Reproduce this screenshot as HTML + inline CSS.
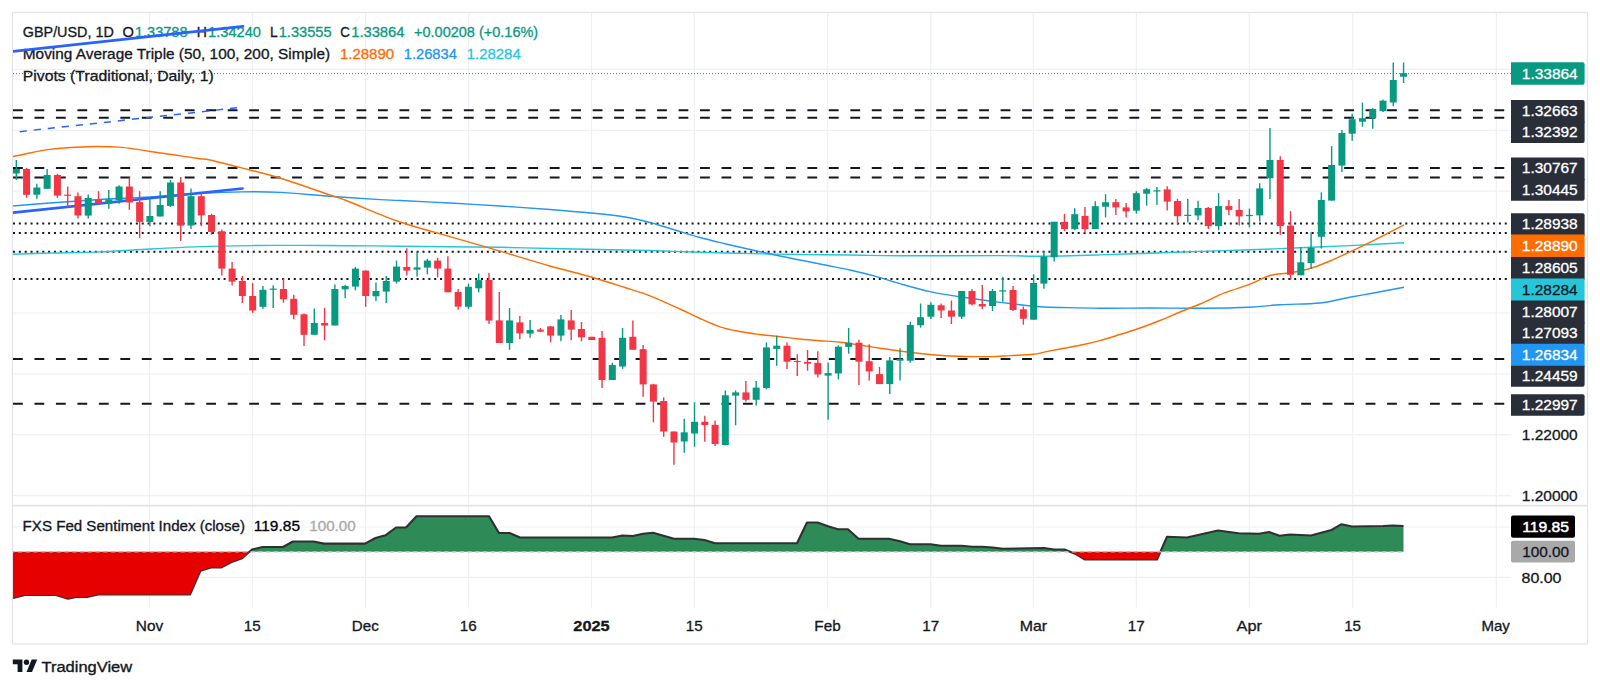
<!DOCTYPE html>
<html lang="en"><head><meta charset="utf-8"><title>GBP/USD chart</title>
<style>html,body{margin:0;padding:0;background:#fff;overflow:hidden}svg{display:block}text{white-space:pre}</style></head><body>
<svg width="1600" height="689" viewBox="0 0 1600 689" font-family="Liberation Sans, Arial, sans-serif">
<rect width="1600" height="689" fill="#ffffff"/>
<defs>
<clipPath id="main"><rect x="13" y="13" width="1498" height="492"/></clipPath>
</defs>
<g stroke="#eff0f3" stroke-width="1.2" fill="none">
<line x1="149.5" y1="13" x2="149.5" y2="607.5"/>
<line x1="252.5" y1="13" x2="252.5" y2="607.5"/>
<line x1="365.6" y1="13" x2="365.6" y2="607.5"/>
<line x1="468.6" y1="13" x2="468.6" y2="607.5"/>
<line x1="591.5" y1="13" x2="591.5" y2="607.5"/>
<line x1="694.3" y1="13" x2="694.3" y2="607.5"/>
<line x1="827.7" y1="13" x2="827.7" y2="607.5"/>
<line x1="930.7" y1="13" x2="930.7" y2="607.5"/>
<line x1="1033.4" y1="13" x2="1033.4" y2="607.5"/>
<line x1="1136.3" y1="13" x2="1136.3" y2="607.5"/>
<line x1="1249.3" y1="13" x2="1249.3" y2="607.5"/>
<line x1="1352.6" y1="13" x2="1352.6" y2="607.5"/>
<line x1="1496.3" y1="13" x2="1496.3" y2="607.5"/>
<line x1="13" y1="69.4" x2="1511" y2="69.4"/>
<line x1="13" y1="130.3" x2="1511" y2="130.3"/>
<line x1="13" y1="191.2" x2="1511" y2="191.2"/>
<line x1="13" y1="252.2" x2="1511" y2="252.2"/>
<line x1="13" y1="313" x2="1511" y2="313"/>
<line x1="13" y1="373.8" x2="1511" y2="373.8"/>
<line x1="13" y1="434.7" x2="1511" y2="434.7"/>
<line x1="13" y1="495.6" x2="1511" y2="495.6"/>
<line x1="13" y1="527" x2="1511" y2="527"/>
<line x1="13" y1="577.3" x2="1511" y2="577.3"/>
</g>
<rect x="12.5" y="12.5" width="1575" height="631.5" fill="none" stroke="#e0e3eb" stroke-width="1.2"/>
<line x1="13" y1="505.6" x2="1587" y2="505.6" stroke="#e0e3eb" stroke-width="1.6"/>
<g clip-path="url(#main)">
<line x1="13" y1="73.6" x2="1511" y2="73.6" stroke="#089981" stroke-width="1" stroke-dasharray="1 2"/>
<line x1="13" y1="110.3" x2="1508" y2="110.3" stroke="#131722" stroke-width="2" stroke-dasharray="9.8 11.67"/>
<line x1="13" y1="117.8" x2="1508" y2="117.8" stroke="#131722" stroke-width="2" stroke-dasharray="9.8 11.67"/>
<line x1="13" y1="167.9" x2="1508" y2="167.9" stroke="#131722" stroke-width="2" stroke-dasharray="9.8 11.67"/>
<line x1="13" y1="177.6" x2="1508" y2="177.6" stroke="#131722" stroke-width="2" stroke-dasharray="9.8 11.67"/>
<line x1="13" y1="359" x2="1508" y2="359" stroke="#131722" stroke-width="2" stroke-dasharray="9.8 11.67"/>
<line x1="13" y1="403.8" x2="1508" y2="403.8" stroke="#131722" stroke-width="2" stroke-dasharray="9.8 11.67"/>
<line x1="13" y1="223.4" x2="1508" y2="223.4" stroke="#131722" stroke-width="2" stroke-dasharray="2 3.85"/>
<line x1="13" y1="233.1" x2="1508" y2="233.1" stroke="#131722" stroke-width="2" stroke-dasharray="2 3.85"/>
<line x1="13" y1="251.7" x2="1508" y2="251.7" stroke="#131722" stroke-width="2" stroke-dasharray="2 3.85"/>
<line x1="13" y1="278.9" x2="1508" y2="278.9" stroke="#131722" stroke-width="2" stroke-dasharray="2 3.85"/>
<path d="M13.0 254.3C19.2 254.1 35.5 253.5 50.0 253.1C64.5 252.7 83.3 252.6 100.0 251.9C116.7 251.2 133.3 249.9 150.0 249.0C166.7 248.1 183.3 247.2 200.0 246.6C216.7 246.0 233.3 245.8 250.0 245.6C266.7 245.4 283.3 245.4 300.0 245.4C316.7 245.4 333.3 245.6 350.0 245.7C366.7 245.8 383.3 246.0 400.0 246.2C416.7 246.4 433.3 246.6 450.0 246.8C466.7 247.0 483.3 247.0 500.0 247.3C516.7 247.6 533.3 248.1 550.0 248.5C566.7 248.9 583.3 249.2 600.0 249.5C616.7 249.8 633.3 250.0 650.0 250.5C666.7 251.0 683.3 251.8 700.0 252.3C716.7 252.8 733.3 253.2 750.0 253.6C766.7 254.0 783.3 254.3 800.0 254.5C816.7 254.7 833.3 254.8 850.0 255.0C866.7 255.2 875.0 255.7 900.0 255.8C925.0 255.9 976.7 255.5 1000.0 255.6C1023.3 255.7 1023.3 256.3 1040.0 256.2C1056.7 256.1 1081.7 255.4 1100.0 254.9C1118.3 254.4 1133.3 253.8 1150.0 253.2C1166.7 252.6 1183.3 252.0 1200.0 251.4C1216.7 250.8 1233.3 250.4 1250.0 249.8C1266.7 249.2 1283.3 248.5 1300.0 247.8C1316.7 247.1 1332.7 246.4 1350.0 245.6C1367.3 244.8 1395.0 243.3 1404.0 242.8" fill="none" stroke="#26c6da" stroke-width="1.4"/>
<path d="M13.0 206.0C19.2 205.5 39.7 203.8 50.0 203.0C60.3 202.2 66.7 201.8 75.0 201.2C83.3 200.7 87.5 200.2 100.0 199.5C112.5 198.8 133.3 198.0 150.0 197.0C166.7 196.0 184.7 194.3 200.0 193.5C215.3 192.7 228.7 192.1 242.0 191.9C255.3 191.7 265.3 191.7 280.0 192.4C294.7 193.1 313.3 195.1 330.0 196.2C346.7 197.4 368.3 198.9 380.0 199.6C391.7 200.3 388.3 199.9 400.0 200.5C411.7 201.1 433.3 202.1 450.0 203.0C466.7 203.9 483.3 204.9 500.0 206.0C516.7 207.1 534.8 208.3 550.0 209.5C565.2 210.7 578.5 211.8 591.0 213.0C603.5 214.2 615.2 215.4 625.0 217.0C634.8 218.6 641.7 220.3 650.0 222.5C658.3 224.7 666.7 227.5 675.0 230.0C683.3 232.5 691.7 235.2 700.0 237.5C708.3 239.8 716.7 241.7 725.0 243.7C733.3 245.7 741.7 247.6 750.0 249.5C758.3 251.4 766.7 253.2 775.0 255.0C783.3 256.8 791.7 258.3 800.0 260.0C808.3 261.7 816.7 263.3 825.0 265.0C833.3 266.7 841.7 268.1 850.0 270.0C858.3 271.9 866.7 273.9 875.0 276.2C883.3 278.5 890.8 281.1 900.0 283.7C909.2 286.3 920.0 289.4 930.0 291.6C940.0 293.8 950.0 295.2 960.0 296.8C970.0 298.4 980.0 299.7 990.0 301.0C1000.0 302.3 1011.7 303.8 1020.0 304.8C1028.3 305.8 1033.3 306.4 1040.0 306.8C1046.7 307.2 1050.0 307.3 1060.0 307.5C1070.0 307.7 1085.0 308.1 1100.0 308.2C1115.0 308.3 1133.3 308.0 1150.0 308.0C1166.7 308.0 1183.3 308.3 1200.0 308.2C1216.7 308.1 1236.7 307.8 1250.0 307.2C1263.3 306.6 1268.3 305.4 1280.0 304.7C1291.7 304.0 1308.3 304.2 1320.0 303.0C1331.7 301.8 1340.8 298.9 1350.0 297.2C1359.2 295.5 1366.0 294.4 1375.0 292.7C1384.0 291.0 1399.2 288.1 1404.0 287.2" fill="none" stroke="#2196f3" stroke-width="1.4"/>
<path d="M13.0 156.5C15.0 156.1 18.8 155.2 25.0 154.0C31.2 152.8 41.7 150.5 50.0 149.4C58.3 148.3 67.1 147.7 75.0 147.2C82.9 146.8 90.2 146.5 97.5 146.5C104.8 146.5 112.3 146.6 119.0 147.1C125.7 147.6 132.3 148.7 137.5 149.4C142.7 150.1 143.8 150.6 150.0 151.5C156.2 152.4 166.7 153.8 175.0 155.0C183.3 156.2 194.2 157.9 200.0 158.8C205.8 159.6 201.7 158.1 210.0 160.0C218.3 161.9 238.3 167.0 250.0 170.0C261.7 173.0 266.7 173.8 280.0 178.0C293.3 182.2 319.2 191.3 330.0 195.0C340.8 198.7 336.7 196.8 345.0 200.0C353.3 203.2 370.8 210.7 380.0 214.4C389.2 218.1 391.7 219.2 400.0 222.0C408.3 224.8 418.3 227.6 430.0 231.0C441.7 234.4 458.3 239.0 470.0 242.4C481.7 245.8 486.7 247.3 500.0 251.2C513.3 255.1 534.8 261.7 550.0 266.0C565.2 270.3 578.5 273.4 591.0 277.0C603.5 280.6 615.2 284.4 625.0 287.5C634.8 290.6 640.8 292.2 650.0 295.8C659.2 299.4 671.7 305.2 680.0 309.0C688.3 312.8 693.3 315.5 700.0 318.5C706.7 321.5 713.3 324.6 720.0 326.8C726.7 329.0 733.3 330.2 740.0 331.5C746.7 332.8 753.3 333.6 760.0 334.5C766.7 335.4 773.3 335.9 780.0 336.7C786.7 337.4 793.3 338.3 800.0 339.0C806.7 339.7 813.3 340.2 820.0 340.7C826.7 341.2 833.3 341.5 840.0 342.2C846.7 342.9 853.3 344.0 860.0 345.0C866.7 346.0 873.3 347.2 880.0 348.2C886.7 349.2 893.3 350.2 900.0 351.1C906.7 352.0 911.7 352.7 920.0 353.5C928.3 354.3 938.3 355.5 950.0 356.0C961.7 356.5 980.0 356.7 990.0 356.6C1000.0 356.5 1002.8 356.0 1010.0 355.6C1017.2 355.2 1027.2 354.9 1033.0 354.3C1038.8 353.7 1040.5 352.8 1045.0 351.9C1049.5 351.0 1054.2 350.1 1060.0 349.0C1065.8 347.9 1073.3 346.7 1080.0 345.3C1086.7 343.9 1093.3 342.4 1100.0 340.6C1106.7 338.8 1113.3 336.6 1120.0 334.5C1126.7 332.4 1133.3 330.3 1140.0 328.0C1146.7 325.7 1153.3 323.2 1160.0 320.5C1166.7 317.8 1173.3 314.8 1180.0 312.0C1186.7 309.2 1192.5 307.2 1200.0 304.0C1207.5 300.8 1216.7 296.0 1225.0 292.7C1233.3 289.4 1242.5 287.1 1250.0 284.2C1257.5 281.3 1263.3 277.4 1270.0 275.5C1276.7 273.6 1283.3 274.0 1290.0 272.8C1296.7 271.6 1303.3 270.5 1310.0 268.5C1316.7 266.5 1323.3 263.8 1330.0 261.0C1336.7 258.2 1342.5 255.3 1350.0 251.8C1357.5 248.3 1366.0 244.3 1375.0 239.8C1384.0 235.3 1399.2 227.4 1404.0 224.9" fill="none" stroke="#ff6d00" stroke-width="1.4"/>
<line x1="0" y1="213.9" x2="242.5" y2="188.5" stroke="#2962ff" stroke-width="2.7" stroke-linecap="round"/>
<line x1="16.30" y1="160.0" x2="16.30" y2="180.0" stroke="#089981" stroke-width="1.4"/>
<rect x="12.80" y="169.0" width="7" height="4.5" fill="#089981"/>
<line x1="26.58" y1="168.0" x2="26.58" y2="197.8" stroke="#f23645" stroke-width="1.4"/>
<rect x="23.08" y="169.0" width="7" height="25.8" fill="#f23645"/>
<line x1="36.85" y1="183.8" x2="36.85" y2="198.8" stroke="#089981" stroke-width="1.4"/>
<rect x="33.35" y="187.5" width="7" height="7.2" fill="#089981"/>
<line x1="47.13" y1="169.0" x2="47.13" y2="188.8" stroke="#089981" stroke-width="1.4"/>
<rect x="43.63" y="175.0" width="7" height="13.8" fill="#089981"/>
<line x1="57.40" y1="173.8" x2="57.40" y2="197.8" stroke="#f23645" stroke-width="1.4"/>
<rect x="53.90" y="175.0" width="7" height="20.6" fill="#f23645"/>
<line x1="67.68" y1="186.5" x2="67.68" y2="207.5" stroke="#f23645" stroke-width="1.4"/>
<rect x="64.18" y="194.6" width="7" height="1.2" fill="#f23645"/>
<line x1="77.96" y1="192.5" x2="77.96" y2="218.5" stroke="#f23645" stroke-width="1.4"/>
<rect x="74.46" y="196.2" width="7" height="19.3" fill="#f23645"/>
<line x1="88.23" y1="194.4" x2="88.23" y2="218.5" stroke="#089981" stroke-width="1.4"/>
<rect x="84.73" y="198.0" width="7" height="17.6" fill="#089981"/>
<line x1="98.51" y1="191.2" x2="98.51" y2="203.8" stroke="#f23645" stroke-width="1.4"/>
<rect x="95.01" y="199.4" width="7" height="4.3" fill="#f23645"/>
<line x1="108.78" y1="190.0" x2="108.78" y2="208.8" stroke="#089981" stroke-width="1.4"/>
<rect x="105.28" y="199.4" width="7" height="4.2" fill="#089981"/>
<line x1="119.06" y1="185.2" x2="119.06" y2="203.8" stroke="#089981" stroke-width="1.4"/>
<rect x="115.56" y="186.5" width="7" height="13.5" fill="#089981"/>
<line x1="129.34" y1="177.5" x2="129.34" y2="209.8" stroke="#f23645" stroke-width="1.4"/>
<rect x="125.84" y="186.5" width="7" height="16.0" fill="#f23645"/>
<line x1="139.61" y1="191.2" x2="139.61" y2="237.9" stroke="#f23645" stroke-width="1.4"/>
<rect x="136.11" y="202.1" width="7" height="19.8" fill="#f23645"/>
<line x1="149.89" y1="197.2" x2="149.89" y2="226.2" stroke="#089981" stroke-width="1.4"/>
<rect x="146.39" y="216.0" width="7" height="5.9" fill="#089981"/>
<line x1="160.16" y1="191.2" x2="160.16" y2="216.5" stroke="#089981" stroke-width="1.4"/>
<rect x="156.66" y="205.0" width="7" height="11.5" fill="#089981"/>
<line x1="170.44" y1="180.0" x2="170.44" y2="206.9" stroke="#089981" stroke-width="1.4"/>
<rect x="166.94" y="182.5" width="7" height="23.4" fill="#089981"/>
<line x1="180.72" y1="176.9" x2="180.72" y2="240.9" stroke="#f23645" stroke-width="1.4"/>
<rect x="177.22" y="182.5" width="7" height="43.1" fill="#f23645"/>
<line x1="190.99" y1="188.4" x2="190.99" y2="229.0" stroke="#089981" stroke-width="1.4"/>
<rect x="187.49" y="196.2" width="7" height="29.3" fill="#089981"/>
<line x1="201.27" y1="193.8" x2="201.27" y2="226.2" stroke="#f23645" stroke-width="1.4"/>
<rect x="197.77" y="196.2" width="7" height="19.2" fill="#f23645"/>
<line x1="211.54" y1="213.8" x2="211.54" y2="234.8" stroke="#f23645" stroke-width="1.4"/>
<rect x="208.04" y="215.0" width="7" height="16.9" fill="#f23645"/>
<line x1="221.82" y1="229.4" x2="221.82" y2="275.4" stroke="#f23645" stroke-width="1.4"/>
<rect x="218.32" y="231.2" width="7" height="37.4" fill="#f23645"/>
<line x1="232.10" y1="262.0" x2="232.10" y2="285.6" stroke="#f23645" stroke-width="1.4"/>
<rect x="228.60" y="268.6" width="7" height="13.0" fill="#f23645"/>
<line x1="242.37" y1="276.0" x2="242.37" y2="303.0" stroke="#f23645" stroke-width="1.4"/>
<rect x="238.87" y="281.0" width="7" height="15.0" fill="#f23645"/>
<line x1="252.65" y1="283.0" x2="252.65" y2="312.8" stroke="#f23645" stroke-width="1.4"/>
<rect x="249.15" y="296.0" width="7" height="14.5" fill="#f23645"/>
<line x1="262.92" y1="286.0" x2="262.92" y2="308.8" stroke="#089981" stroke-width="1.4"/>
<rect x="259.42" y="289.8" width="7" height="17.0" fill="#089981"/>
<line x1="273.20" y1="285.3" x2="273.20" y2="308.0" stroke="#089981" stroke-width="1.4"/>
<rect x="269.70" y="288.6" width="7" height="1.2" fill="#089981"/>
<line x1="283.48" y1="278.6" x2="283.48" y2="302.8" stroke="#f23645" stroke-width="1.4"/>
<rect x="279.98" y="289.0" width="7" height="10.3" fill="#f23645"/>
<line x1="293.75" y1="294.8" x2="293.75" y2="319.3" stroke="#f23645" stroke-width="1.4"/>
<rect x="290.25" y="298.8" width="7" height="16.0" fill="#f23645"/>
<line x1="304.03" y1="313.5" x2="304.03" y2="346.0" stroke="#f23645" stroke-width="1.4"/>
<rect x="300.53" y="314.3" width="7" height="20.5" fill="#f23645"/>
<line x1="314.30" y1="308.6" x2="314.30" y2="334.8" stroke="#089981" stroke-width="1.4"/>
<rect x="310.80" y="323.0" width="7" height="11.8" fill="#089981"/>
<line x1="324.58" y1="307.8" x2="324.58" y2="340.3" stroke="#f23645" stroke-width="1.4"/>
<rect x="321.08" y="323.0" width="7" height="2.5" fill="#f23645"/>
<line x1="334.86" y1="284.4" x2="334.86" y2="325.5" stroke="#089981" stroke-width="1.4"/>
<rect x="331.36" y="289.0" width="7" height="36.5" fill="#089981"/>
<line x1="345.13" y1="284.9" x2="345.13" y2="298.3" stroke="#089981" stroke-width="1.4"/>
<rect x="341.63" y="286.0" width="7" height="3.3" fill="#089981"/>
<line x1="355.41" y1="266.9" x2="355.41" y2="290.3" stroke="#089981" stroke-width="1.4"/>
<rect x="351.91" y="268.6" width="7" height="18.0" fill="#089981"/>
<line x1="365.68" y1="270.4" x2="365.68" y2="306.8" stroke="#f23645" stroke-width="1.4"/>
<rect x="362.18" y="270.6" width="7" height="25.4" fill="#f23645"/>
<line x1="375.96" y1="282.4" x2="375.96" y2="301.0" stroke="#089981" stroke-width="1.4"/>
<rect x="372.46" y="291.0" width="7" height="5.3" fill="#089981"/>
<line x1="386.24" y1="276.0" x2="386.24" y2="303.0" stroke="#089981" stroke-width="1.4"/>
<rect x="382.74" y="281.0" width="7" height="10.6" fill="#089981"/>
<line x1="396.51" y1="260.6" x2="396.51" y2="283.6" stroke="#089981" stroke-width="1.4"/>
<rect x="393.01" y="266.6" width="7" height="15.0" fill="#089981"/>
<line x1="406.79" y1="248.2" x2="406.79" y2="275.6" stroke="#f23645" stroke-width="1.4"/>
<rect x="403.29" y="266.9" width="7" height="3.7" fill="#f23645"/>
<line x1="417.06" y1="251.7" x2="417.06" y2="276.4" stroke="#089981" stroke-width="1.4"/>
<rect x="413.56" y="267.4" width="7" height="2.2" fill="#089981"/>
<line x1="427.34" y1="258.9" x2="427.34" y2="274.4" stroke="#089981" stroke-width="1.4"/>
<rect x="423.84" y="260.6" width="7" height="7.0" fill="#089981"/>
<line x1="437.62" y1="257.9" x2="437.62" y2="277.4" stroke="#f23645" stroke-width="1.4"/>
<rect x="434.12" y="260.6" width="7" height="8.0" fill="#f23645"/>
<line x1="447.89" y1="256.2" x2="447.89" y2="292.3" stroke="#f23645" stroke-width="1.4"/>
<rect x="444.39" y="268.6" width="7" height="23.7" fill="#f23645"/>
<line x1="458.17" y1="289.0" x2="458.17" y2="309.8" stroke="#f23645" stroke-width="1.4"/>
<rect x="454.67" y="292.0" width="7" height="14.6" fill="#f23645"/>
<line x1="468.44" y1="283.6" x2="468.44" y2="309.0" stroke="#089981" stroke-width="1.4"/>
<rect x="464.94" y="286.8" width="7" height="20.0" fill="#089981"/>
<line x1="478.72" y1="273.4" x2="478.72" y2="292.3" stroke="#089981" stroke-width="1.4"/>
<rect x="475.22" y="280.1" width="7" height="8.2" fill="#089981"/>
<line x1="489.00" y1="273.0" x2="489.00" y2="323.9" stroke="#f23645" stroke-width="1.4"/>
<rect x="485.50" y="280.0" width="7" height="40.6" fill="#f23645"/>
<line x1="499.27" y1="292.0" x2="499.27" y2="343.0" stroke="#f23645" stroke-width="1.4"/>
<rect x="495.77" y="320.4" width="7" height="22.6" fill="#f23645"/>
<line x1="509.55" y1="308.0" x2="509.55" y2="349.8" stroke="#089981" stroke-width="1.4"/>
<rect x="506.05" y="320.4" width="7" height="22.6" fill="#089981"/>
<line x1="519.82" y1="316.0" x2="519.82" y2="339.3" stroke="#f23645" stroke-width="1.4"/>
<rect x="516.32" y="322.4" width="7" height="11.0" fill="#f23645"/>
<line x1="530.10" y1="320.0" x2="530.10" y2="337.8" stroke="#089981" stroke-width="1.4"/>
<rect x="526.60" y="330.0" width="7" height="3.6" fill="#089981"/>
<line x1="540.38" y1="328.0" x2="540.38" y2="332.0" stroke="#f23645" stroke-width="1.4"/>
<rect x="536.88" y="329.6" width="7" height="2.0" fill="#f23645"/>
<line x1="550.65" y1="326.0" x2="550.65" y2="342.3" stroke="#f23645" stroke-width="1.4"/>
<rect x="547.15" y="326.4" width="7" height="9.2" fill="#f23645"/>
<line x1="560.93" y1="315.0" x2="560.93" y2="341.3" stroke="#089981" stroke-width="1.4"/>
<rect x="557.43" y="319.4" width="7" height="16.2" fill="#089981"/>
<line x1="571.20" y1="310.0" x2="571.20" y2="340.3" stroke="#f23645" stroke-width="1.4"/>
<rect x="567.70" y="320.4" width="7" height="9.2" fill="#f23645"/>
<line x1="581.48" y1="322.0" x2="581.48" y2="341.3" stroke="#f23645" stroke-width="1.4"/>
<rect x="577.98" y="329.0" width="7" height="8.3" fill="#f23645"/>
<line x1="591.76" y1="336.8" x2="591.76" y2="340.0" stroke="#f23645" stroke-width="1.4"/>
<rect x="588.26" y="336.8" width="7" height="3.2" fill="#f23645"/>
<line x1="602.03" y1="330.9" x2="602.03" y2="388.0" stroke="#f23645" stroke-width="1.4"/>
<rect x="598.53" y="337.8" width="7" height="42.2" fill="#f23645"/>
<line x1="612.31" y1="362.8" x2="612.31" y2="380.0" stroke="#089981" stroke-width="1.4"/>
<rect x="608.81" y="365.0" width="7" height="15.0" fill="#089981"/>
<line x1="622.58" y1="328.0" x2="622.58" y2="368.8" stroke="#089981" stroke-width="1.4"/>
<rect x="619.08" y="337.8" width="7" height="28.7" fill="#089981"/>
<line x1="632.86" y1="320.4" x2="632.86" y2="349.8" stroke="#f23645" stroke-width="1.4"/>
<rect x="629.36" y="336.8" width="7" height="13.0" fill="#f23645"/>
<line x1="643.14" y1="345.0" x2="643.14" y2="396.8" stroke="#f23645" stroke-width="1.4"/>
<rect x="639.64" y="349.2" width="7" height="35.2" fill="#f23645"/>
<line x1="653.41" y1="383.8" x2="653.41" y2="422.3" stroke="#f23645" stroke-width="1.4"/>
<rect x="649.91" y="384.4" width="7" height="17.2" fill="#f23645"/>
<line x1="663.69" y1="397.3" x2="663.69" y2="436.8" stroke="#f23645" stroke-width="1.4"/>
<rect x="660.19" y="401.0" width="7" height="30.5" fill="#f23645"/>
<line x1="673.96" y1="431.5" x2="673.96" y2="464.7" stroke="#f23645" stroke-width="1.4"/>
<rect x="670.46" y="431.5" width="7" height="11.0" fill="#f23645"/>
<line x1="684.24" y1="418.8" x2="684.24" y2="452.7" stroke="#089981" stroke-width="1.4"/>
<rect x="680.74" y="432.3" width="7" height="9.2" fill="#089981"/>
<line x1="694.52" y1="402.3" x2="694.52" y2="446.8" stroke="#089981" stroke-width="1.4"/>
<rect x="691.02" y="421.8" width="7" height="11.7" fill="#089981"/>
<line x1="704.79" y1="415.8" x2="704.79" y2="441.8" stroke="#f23645" stroke-width="1.4"/>
<rect x="701.29" y="421.8" width="7" height="3.2" fill="#f23645"/>
<line x1="715.07" y1="420.6" x2="715.07" y2="446.0" stroke="#f23645" stroke-width="1.4"/>
<rect x="711.57" y="424.8" width="7" height="19.2" fill="#f23645"/>
<line x1="725.34" y1="390.4" x2="725.34" y2="445.5" stroke="#089981" stroke-width="1.4"/>
<rect x="721.84" y="395.3" width="7" height="49.7" fill="#089981"/>
<line x1="735.62" y1="390.4" x2="735.62" y2="425.3" stroke="#089981" stroke-width="1.4"/>
<rect x="732.12" y="392.4" width="7" height="3.2" fill="#089981"/>
<line x1="745.90" y1="380.9" x2="745.90" y2="401.8" stroke="#f23645" stroke-width="1.4"/>
<rect x="742.40" y="392.4" width="7" height="7.4" fill="#f23645"/>
<line x1="756.17" y1="380.9" x2="756.17" y2="405.6" stroke="#089981" stroke-width="1.4"/>
<rect x="752.67" y="387.6" width="7" height="12.2" fill="#089981"/>
<line x1="766.45" y1="342.4" x2="766.45" y2="389.4" stroke="#089981" stroke-width="1.4"/>
<rect x="762.95" y="347.4" width="7" height="40.7" fill="#089981"/>
<line x1="776.72" y1="335.7" x2="776.72" y2="365.7" stroke="#089981" stroke-width="1.4"/>
<rect x="773.22" y="345.7" width="7" height="3.2" fill="#089981"/>
<line x1="787.00" y1="342.4" x2="787.00" y2="368.9" stroke="#f23645" stroke-width="1.4"/>
<rect x="783.50" y="345.7" width="7" height="16.0" fill="#f23645"/>
<line x1="797.28" y1="354.2" x2="797.28" y2="375.9" stroke="#f23645" stroke-width="1.4"/>
<rect x="793.78" y="360.9" width="7" height="1.2" fill="#f23645"/>
<line x1="807.55" y1="350.0" x2="807.55" y2="370.6" stroke="#f23645" stroke-width="1.4"/>
<rect x="804.05" y="361.9" width="7" height="1.8" fill="#f23645"/>
<line x1="817.83" y1="351.2" x2="817.83" y2="377.4" stroke="#f23645" stroke-width="1.4"/>
<rect x="814.33" y="362.9" width="7" height="11.5" fill="#f23645"/>
<line x1="828.10" y1="362.4" x2="828.10" y2="419.8" stroke="#089981" stroke-width="1.4"/>
<rect x="824.60" y="373.1" width="7" height="2.5" fill="#089981"/>
<line x1="838.38" y1="345.4" x2="838.38" y2="379.4" stroke="#089981" stroke-width="1.4"/>
<rect x="834.88" y="346.7" width="7" height="26.7" fill="#089981"/>
<line x1="848.66" y1="328.0" x2="848.66" y2="353.7" stroke="#089981" stroke-width="1.4"/>
<rect x="845.16" y="342.7" width="7" height="4.2" fill="#089981"/>
<line x1="858.93" y1="339.7" x2="858.93" y2="384.9" stroke="#f23645" stroke-width="1.4"/>
<rect x="855.43" y="342.7" width="7" height="19.0" fill="#f23645"/>
<line x1="869.21" y1="344.2" x2="869.21" y2="380.4" stroke="#f23645" stroke-width="1.4"/>
<rect x="865.71" y="361.2" width="7" height="10.2" fill="#f23645"/>
<line x1="879.48" y1="366.9" x2="879.48" y2="384.1" stroke="#f23645" stroke-width="1.4"/>
<rect x="875.98" y="374.1" width="7" height="10.0" fill="#f23645"/>
<line x1="889.76" y1="356.9" x2="889.76" y2="393.9" stroke="#089981" stroke-width="1.4"/>
<rect x="886.26" y="360.4" width="7" height="23.7" fill="#089981"/>
<line x1="900.04" y1="348.2" x2="900.04" y2="380.4" stroke="#089981" stroke-width="1.4"/>
<rect x="896.54" y="358.9" width="7" height="1.8" fill="#089981"/>
<line x1="910.31" y1="321.7" x2="910.31" y2="362.7" stroke="#089981" stroke-width="1.4"/>
<rect x="906.81" y="325.0" width="7" height="35.7" fill="#089981"/>
<line x1="920.59" y1="303.5" x2="920.59" y2="327.7" stroke="#089981" stroke-width="1.4"/>
<rect x="917.09" y="317.2" width="7" height="8.0" fill="#089981"/>
<line x1="930.86" y1="302.3" x2="930.86" y2="319.0" stroke="#089981" stroke-width="1.4"/>
<rect x="927.36" y="304.8" width="7" height="11.9" fill="#089981"/>
<line x1="941.14" y1="303.5" x2="941.14" y2="318.0" stroke="#f23645" stroke-width="1.4"/>
<rect x="937.64" y="305.3" width="7" height="5.2" fill="#f23645"/>
<line x1="951.42" y1="300.5" x2="951.42" y2="324.0" stroke="#f23645" stroke-width="1.4"/>
<rect x="947.92" y="310.5" width="7" height="6.2" fill="#f23645"/>
<line x1="961.69" y1="291.0" x2="961.69" y2="319.0" stroke="#089981" stroke-width="1.4"/>
<rect x="958.19" y="291.0" width="7" height="25.7" fill="#089981"/>
<line x1="971.97" y1="289.0" x2="971.97" y2="305.5" stroke="#f23645" stroke-width="1.4"/>
<rect x="968.47" y="291.0" width="7" height="13.3" fill="#f23645"/>
<line x1="982.24" y1="285.0" x2="982.24" y2="309.3" stroke="#f23645" stroke-width="1.4"/>
<rect x="978.74" y="304.0" width="7" height="2.5" fill="#f23645"/>
<line x1="992.52" y1="289.0" x2="992.52" y2="311.0" stroke="#089981" stroke-width="1.4"/>
<rect x="989.02" y="291.0" width="7" height="15.0" fill="#089981"/>
<line x1="1002.80" y1="276.8" x2="1002.80" y2="301.8" stroke="#089981" stroke-width="1.4"/>
<rect x="999.30" y="290.3" width="7" height="1.2" fill="#089981"/>
<line x1="1013.07" y1="286.0" x2="1013.07" y2="311.0" stroke="#f23645" stroke-width="1.4"/>
<rect x="1009.57" y="290.0" width="7" height="20.0" fill="#f23645"/>
<line x1="1023.35" y1="306.5" x2="1023.35" y2="324.7" stroke="#f23645" stroke-width="1.4"/>
<rect x="1019.85" y="309.3" width="7" height="9.4" fill="#f23645"/>
<line x1="1033.62" y1="274.3" x2="1033.62" y2="319.7" stroke="#089981" stroke-width="1.4"/>
<rect x="1030.12" y="283.0" width="7" height="36.7" fill="#089981"/>
<line x1="1043.90" y1="251.6" x2="1043.90" y2="288.8" stroke="#089981" stroke-width="1.4"/>
<rect x="1040.40" y="256.6" width="7" height="27.0" fill="#089981"/>
<line x1="1054.18" y1="221.7" x2="1054.18" y2="261.6" stroke="#089981" stroke-width="1.4"/>
<rect x="1050.68" y="221.7" width="7" height="35.6" fill="#089981"/>
<line x1="1064.45" y1="213.9" x2="1064.45" y2="231.1" stroke="#f23645" stroke-width="1.4"/>
<rect x="1060.95" y="221.9" width="7" height="7.2" fill="#f23645"/>
<line x1="1074.73" y1="208.2" x2="1074.73" y2="230.0" stroke="#089981" stroke-width="1.4"/>
<rect x="1071.23" y="214.2" width="7" height="14.9" fill="#089981"/>
<line x1="1085.00" y1="206.9" x2="1085.00" y2="233.1" stroke="#f23645" stroke-width="1.4"/>
<rect x="1081.50" y="215.9" width="7" height="13.2" fill="#f23645"/>
<line x1="1095.28" y1="201.2" x2="1095.28" y2="229.1" stroke="#089981" stroke-width="1.4"/>
<rect x="1091.78" y="206.2" width="7" height="22.9" fill="#089981"/>
<line x1="1105.56" y1="194.2" x2="1105.56" y2="217.4" stroke="#089981" stroke-width="1.4"/>
<rect x="1102.06" y="202.2" width="7" height="4.5" fill="#089981"/>
<line x1="1115.83" y1="199.0" x2="1115.83" y2="214.9" stroke="#f23645" stroke-width="1.4"/>
<rect x="1112.33" y="202.2" width="7" height="5.2" fill="#f23645"/>
<line x1="1126.11" y1="203.0" x2="1126.11" y2="217.4" stroke="#f23645" stroke-width="1.4"/>
<rect x="1122.61" y="207.4" width="7" height="4.0" fill="#f23645"/>
<line x1="1136.38" y1="191.2" x2="1136.38" y2="213.7" stroke="#089981" stroke-width="1.4"/>
<rect x="1132.88" y="193.2" width="7" height="17.5" fill="#089981"/>
<line x1="1146.66" y1="188.0" x2="1146.66" y2="205.7" stroke="#089981" stroke-width="1.4"/>
<rect x="1143.16" y="189.2" width="7" height="4.5" fill="#089981"/>
<line x1="1156.94" y1="187.0" x2="1156.94" y2="205.0" stroke="#089981" stroke-width="1.4"/>
<rect x="1153.44" y="190.3" width="7" height="1.2" fill="#089981"/>
<line x1="1167.21" y1="186.2" x2="1167.21" y2="210.6" stroke="#f23645" stroke-width="1.4"/>
<rect x="1163.71" y="189.4" width="7" height="12.2" fill="#f23645"/>
<line x1="1177.49" y1="198.8" x2="1177.49" y2="225.0" stroke="#f23645" stroke-width="1.4"/>
<rect x="1173.99" y="201.0" width="7" height="15.2" fill="#f23645"/>
<line x1="1187.76" y1="199.0" x2="1187.76" y2="222.4" stroke="#089981" stroke-width="1.4"/>
<rect x="1184.26" y="214.8" width="7" height="1.2" fill="#089981"/>
<line x1="1198.04" y1="200.8" x2="1198.04" y2="220.2" stroke="#089981" stroke-width="1.4"/>
<rect x="1194.54" y="208.0" width="7" height="7.5" fill="#089981"/>
<line x1="1208.32" y1="206.9" x2="1208.32" y2="229.1" stroke="#f23645" stroke-width="1.4"/>
<rect x="1204.82" y="207.9" width="7" height="18.2" fill="#f23645"/>
<line x1="1218.59" y1="193.2" x2="1218.59" y2="230.3" stroke="#089981" stroke-width="1.4"/>
<rect x="1215.09" y="206.1" width="7" height="20.0" fill="#089981"/>
<line x1="1228.87" y1="199.9" x2="1228.87" y2="214.9" stroke="#f23645" stroke-width="1.4"/>
<rect x="1225.37" y="206.1" width="7" height="3.8" fill="#f23645"/>
<line x1="1239.14" y1="199.0" x2="1239.14" y2="225.6" stroke="#f23645" stroke-width="1.4"/>
<rect x="1235.64" y="209.9" width="7" height="6.5" fill="#f23645"/>
<line x1="1249.42" y1="208.6" x2="1249.42" y2="227.3" stroke="#089981" stroke-width="1.4"/>
<rect x="1245.92" y="214.9" width="7" height="1.2" fill="#089981"/>
<line x1="1259.70" y1="183.2" x2="1259.70" y2="221.6" stroke="#089981" stroke-width="1.4"/>
<rect x="1256.20" y="188.4" width="7" height="27.0" fill="#089981"/>
<line x1="1269.97" y1="128.0" x2="1269.97" y2="199.0" stroke="#089981" stroke-width="1.4"/>
<rect x="1266.47" y="160.0" width="7" height="18.2" fill="#089981"/>
<line x1="1280.25" y1="156.2" x2="1280.25" y2="234.8" stroke="#f23645" stroke-width="1.4"/>
<rect x="1276.75" y="160.0" width="7" height="66.1" fill="#f23645"/>
<line x1="1290.52" y1="211.1" x2="1290.52" y2="279.8" stroke="#f23645" stroke-width="1.4"/>
<rect x="1287.02" y="225.6" width="7" height="49.2" fill="#f23645"/>
<line x1="1300.80" y1="247.3" x2="1300.80" y2="275.3" stroke="#089981" stroke-width="1.4"/>
<rect x="1297.30" y="262.3" width="7" height="13.0" fill="#089981"/>
<line x1="1311.08" y1="232.3" x2="1311.08" y2="269.0" stroke="#089981" stroke-width="1.4"/>
<rect x="1307.58" y="247.8" width="7" height="15.2" fill="#089981"/>
<line x1="1321.35" y1="192.4" x2="1321.35" y2="248.6" stroke="#089981" stroke-width="1.4"/>
<rect x="1317.85" y="199.9" width="7" height="36.9" fill="#089981"/>
<line x1="1331.63" y1="146.2" x2="1331.63" y2="200.6" stroke="#089981" stroke-width="1.4"/>
<rect x="1328.13" y="165.0" width="7" height="35.6" fill="#089981"/>
<line x1="1341.90" y1="130.0" x2="1341.90" y2="172.0" stroke="#089981" stroke-width="1.4"/>
<rect x="1338.40" y="133.0" width="7" height="32.6" fill="#089981"/>
<line x1="1352.18" y1="113.7" x2="1352.18" y2="140.7" stroke="#089981" stroke-width="1.4"/>
<rect x="1348.68" y="119.2" width="7" height="14.5" fill="#089981"/>
<line x1="1362.46" y1="102.5" x2="1362.46" y2="126.7" stroke="#089981" stroke-width="1.4"/>
<rect x="1358.96" y="118.2" width="7" height="3.5" fill="#089981"/>
<line x1="1372.73" y1="108.2" x2="1372.73" y2="128.7" stroke="#089981" stroke-width="1.4"/>
<rect x="1369.23" y="109.2" width="7" height="8.8" fill="#089981"/>
<line x1="1383.01" y1="99.5" x2="1383.01" y2="112.0" stroke="#089981" stroke-width="1.4"/>
<rect x="1379.51" y="100.7" width="7" height="10.5" fill="#089981"/>
<line x1="1393.28" y1="62.5" x2="1393.28" y2="106.2" stroke="#089981" stroke-width="1.4"/>
<rect x="1389.78" y="80.0" width="7" height="22.5" fill="#089981"/>
<line x1="1403.56" y1="62.5" x2="1403.56" y2="83.0" stroke="#089981" stroke-width="1.4"/>
<rect x="1400.06" y="73.2" width="7" height="3.5" fill="#089981"/>
</g>
<text x="22.80" y="36.90" textLength="91.00" lengthAdjust="spacingAndGlyphs" font-size="14.5" font-weight="normal" fill="#131722" stroke="#131722" stroke-width="0.3">GBP/USD, 1D</text>
<text x="122.40" y="36.90" textLength="11.40" lengthAdjust="spacingAndGlyphs" font-size="14.5" font-weight="normal" fill="#131722" stroke="#131722" stroke-width="0.3">O</text>
<text x="134.90" y="36.90" textLength="52.70" lengthAdjust="spacingAndGlyphs" font-size="14.5" font-weight="normal" fill="#089981" stroke="#089981" stroke-width="0.3">1.33788</text>
<text x="196.80" y="36.90" textLength="10.10" lengthAdjust="spacingAndGlyphs" font-size="14.5" font-weight="normal" fill="#131722" stroke="#131722" stroke-width="0.3">H</text>
<text x="208.05" y="36.90" textLength="52.90" lengthAdjust="spacingAndGlyphs" font-size="14.5" font-weight="normal" fill="#089981" stroke="#089981" stroke-width="0.3">1.34240</text>
<text x="269.90" y="36.90" textLength="7.70" lengthAdjust="spacingAndGlyphs" font-size="14.5" font-weight="normal" fill="#131722" stroke="#131722" stroke-width="0.3">L</text>
<text x="278.70" y="36.90" textLength="52.90" lengthAdjust="spacingAndGlyphs" font-size="14.5" font-weight="normal" fill="#089981" stroke="#089981" stroke-width="0.3">1.33555</text>
<text x="340.30" y="36.90" textLength="9.60" lengthAdjust="spacingAndGlyphs" font-size="14.5" font-weight="normal" fill="#131722" stroke="#131722" stroke-width="0.3">C</text>
<text x="351.20" y="36.90" textLength="53.25" lengthAdjust="spacingAndGlyphs" font-size="14.5" font-weight="normal" fill="#089981" stroke="#089981" stroke-width="0.3">1.33864</text>
<text x="414.05" y="36.90" textLength="124.15" lengthAdjust="spacingAndGlyphs" font-size="14.5" font-weight="normal" fill="#089981" stroke="#089981" stroke-width="0.3">+0.00208 (+0.16%)</text>
<text x="22.80" y="58.75" textLength="307.30" lengthAdjust="spacingAndGlyphs" font-size="14.5" font-weight="normal" fill="#131722" stroke="#131722" stroke-width="0.3">Moving Average Triple (50, 100, 200, Simple)</text>
<text x="339.90" y="58.75" textLength="54.30" lengthAdjust="spacingAndGlyphs" font-size="14.5" font-weight="normal" fill="#ff6d00" stroke="#ff6d00" stroke-width="0.3">1.28890</text>
<text x="403.70" y="58.75" textLength="53.25" lengthAdjust="spacingAndGlyphs" font-size="14.5" font-weight="normal" fill="#2196f3" stroke="#2196f3" stroke-width="0.3">1.26834</text>
<text x="466.80" y="58.75" textLength="53.90" lengthAdjust="spacingAndGlyphs" font-size="14.5" font-weight="normal" fill="#26c6da" stroke="#26c6da" stroke-width="0.3">1.28284</text>
<text x="22.80" y="80.60" textLength="191.00" lengthAdjust="spacingAndGlyphs" font-size="14.5" font-weight="normal" fill="#131722" stroke="#131722" stroke-width="0.3">Pivots (Traditional, Daily, 1)</text>
<g clip-path="url(#main)">
<line x1="0" y1="52.7" x2="243" y2="26.4" stroke="#2962ff" stroke-width="2.7" stroke-linecap="round"/>
<line x1="5.7" y1="133.2" x2="238" y2="107.7" stroke="#2962ff" stroke-width="1.5" stroke-dasharray="7.2 6.9"/>
</g>
<path d="M1511 62.3H1582.6a2 2 0 0 1 2 2V82.8a2 2 0 0 1 -2 2H1511Z" fill="#089981"/>
<text x="1521.80" y="78.62" textLength="55.90" lengthAdjust="spacingAndGlyphs" font-size="14.5" font-weight="normal" fill="#ffffff" stroke="#ffffff" stroke-width="0.3">1.33864</text>
<path d="M1511 100.0H1582.6a2 2 0 0 1 2 2V122.7H1511Z" fill="#2a2e39"/>
<text x="1521.80" y="115.85" textLength="55.90" lengthAdjust="spacingAndGlyphs" font-size="14.5" font-weight="normal" fill="#ffffff" stroke="#ffffff" stroke-width="0.3">1.32663</text>
<path d="M1511 121.5H1584.6V141.1a2 2 0 0 1 -2 2H1511Z" fill="#2a2e39"/>
<text x="1521.80" y="137.40" textLength="55.90" lengthAdjust="spacingAndGlyphs" font-size="14.5" font-weight="normal" fill="#ffffff" stroke="#ffffff" stroke-width="0.3">1.32392</text>
<path d="M1511 157.5H1582.6a2 2 0 0 1 2 2V180.3H1511Z" fill="#2a2e39"/>
<text x="1521.80" y="173.40" textLength="55.90" lengthAdjust="spacingAndGlyphs" font-size="14.5" font-weight="normal" fill="#ffffff" stroke="#ffffff" stroke-width="0.3">1.30767</text>
<path d="M1511 179.1H1584.6V198.7a2 2 0 0 1 -2 2H1511Z" fill="#2a2e39"/>
<text x="1521.80" y="195.00" textLength="55.90" lengthAdjust="spacingAndGlyphs" font-size="14.5" font-weight="normal" fill="#ffffff" stroke="#ffffff" stroke-width="0.3">1.30445</text>
<path d="M1511 213.3H1582.6a2 2 0 0 1 2 2V235.8H1511Z" fill="#2a2e39"/>
<text x="1521.80" y="229.05" textLength="55.90" lengthAdjust="spacingAndGlyphs" font-size="14.5" font-weight="normal" fill="#fff" stroke="#fff" stroke-width="0.3">1.28938</text>
<path d="M1511 234.6H1584.6V258.1H1511Z" fill="#ff6d00"/>
<text x="1521.80" y="250.85" textLength="55.90" lengthAdjust="spacingAndGlyphs" font-size="14.5" font-weight="normal" fill="#fff" stroke="#fff" stroke-width="0.3">1.28890</text>
<path d="M1511 256.9H1584.6V279.7H1511Z" fill="#2a2e39"/>
<text x="1521.80" y="272.80" textLength="55.90" lengthAdjust="spacingAndGlyphs" font-size="14.5" font-weight="normal" fill="#fff" stroke="#fff" stroke-width="0.3">1.28605</text>
<path d="M1511 278.5H1584.6V301.8H1511Z" fill="#26c6da"/>
<text x="1521.80" y="294.65" textLength="55.90" lengthAdjust="spacingAndGlyphs" font-size="14.5" font-weight="normal" fill="#131722" stroke="#131722" stroke-width="0.3">1.28284</text>
<path d="M1511 300.6H1584.6V323.5H1511Z" fill="#2a2e39"/>
<text x="1521.80" y="316.55" textLength="55.90" lengthAdjust="spacingAndGlyphs" font-size="14.5" font-weight="normal" fill="#fff" stroke="#fff" stroke-width="0.3">1.28007</text>
<path d="M1511 322.3H1584.6V344.9H1511Z" fill="#2a2e39"/>
<text x="1521.80" y="338.10" textLength="55.90" lengthAdjust="spacingAndGlyphs" font-size="14.5" font-weight="normal" fill="#fff" stroke="#fff" stroke-width="0.3">1.27093</text>
<path d="M1511 343.7H1584.6V366.9H1511Z" fill="#2196f3"/>
<text x="1521.80" y="359.80" textLength="55.90" lengthAdjust="spacingAndGlyphs" font-size="14.5" font-weight="normal" fill="#fff" stroke="#fff" stroke-width="0.3">1.26834</text>
<path d="M1511 365.7H1584.6V384.8a2 2 0 0 1 -2 2H1511Z" fill="#2a2e39"/>
<text x="1521.80" y="381.35" textLength="55.90" lengthAdjust="spacingAndGlyphs" font-size="14.5" font-weight="normal" fill="#fff" stroke="#fff" stroke-width="0.3">1.24459</text>
<path d="M1511 394.3H1582.6a2 2 0 0 1 2 2V413.8a2 2 0 0 1 -2 2H1511Z" fill="#2a2e39"/>
<text x="1521.80" y="410.15" textLength="55.90" lengthAdjust="spacingAndGlyphs" font-size="14.5" font-weight="normal" fill="#ffffff" stroke="#ffffff" stroke-width="0.3">1.22997</text>
<text x="1521.80" y="440.00" textLength="55.90" lengthAdjust="spacingAndGlyphs" font-size="14.5" font-weight="normal" fill="#131722" stroke="#131722" stroke-width="0.3">1.22000</text>
<text x="1521.80" y="500.50" textLength="55.90" lengthAdjust="spacingAndGlyphs" font-size="14.5" font-weight="normal" fill="#131722" stroke="#131722" stroke-width="0.3">1.20000</text>
<polygon points="13.0,551.7 13.0,551.7 25.0,551.7 56.0,551.7 68.0,551.7 76.0,551.7 87.0,551.7 98.0,551.7 190.0,551.7 200.5,551.7 211.0,551.7 221.0,551.7 231.5,551.7 242.0,551.7 249.5,551.7 252.0,549.5 262.5,547.0 283.0,547.0 293.0,541.5 313.5,541.5 324.0,543.6 365.0,543.6 375.5,538.0 385.5,535.3 396.0,527.5 406.0,527.5 416.5,516.2 489.0,516.2 499.0,533.0 509.5,533.0 520.0,537.5 612.0,537.5 622.5,535.5 633.0,536.0 643.0,533.7 653.0,532.7 663.5,535.7 674.0,538.7 694.0,538.7 704.5,540.0 715.0,543.2 797.0,543.2 807.0,522.5 817.5,522.5 828.0,526.2 838.0,529.2 848.0,529.2 858.5,538.7 889.0,538.7 900.0,541.2 910.0,544.2 930.5,544.2 941.0,545.7 961.5,545.7 972.0,546.7 982.0,546.7 992.5,547.5 1003.0,548.7 1044.0,548.0 1054.0,549.5 1064.5,549.5 1070.0,551.7 1075.0,551.7 1085.0,551.7 1157.0,551.7 1160.4,551.7 1167.0,536.7 1187.0,537.5 1218.0,530.5 1238.5,533.2 1259.0,533.7 1269.0,532.0 1279.5,535.7 1290.0,534.5 1311.0,535.5 1331.5,530.0 1341.5,524.2 1352.0,526.5 1383.0,526.0 1393.0,525.5 1403.5,526.0 1403.5,551.7" fill="#2e8b57"/>
<polyline points="13.0,598.0 25.0,595.0 56.0,595.0 68.0,598.7 76.0,597.0 87.0,597.0 98.0,594.5 190.0,594.5 200.5,570.7 211.0,567.5 221.0,567.5 231.5,562.0 242.0,558.2 252.0,549.5 262.5,547.0 283.0,547.0 293.0,541.5 313.5,541.5 324.0,543.6 365.0,543.6 375.5,538.0 385.5,535.3 396.0,527.5 406.0,527.5 416.5,516.2 489.0,516.2 499.0,533.0 509.5,533.0 520.0,537.5 612.0,537.5 622.5,535.5 633.0,536.0 643.0,533.7 653.0,532.7 663.5,535.7 674.0,538.7 694.0,538.7 704.5,540.0 715.0,543.2 797.0,543.2 807.0,522.5 817.5,522.5 828.0,526.2 838.0,529.2 848.0,529.2 858.5,538.7 889.0,538.7 900.0,541.2 910.0,544.2 930.5,544.2 941.0,545.7 961.5,545.7 972.0,546.7 982.0,546.7 992.5,547.5 1003.0,548.7 1044.0,548.0 1054.0,549.5 1064.5,549.5 1075.0,553.7 1085.0,559.5 1157.0,559.5 1167.0,536.7 1187.0,537.5 1218.0,530.5 1238.5,533.2 1259.0,533.7 1269.0,532.0 1279.5,535.7 1290.0,534.5 1311.0,535.5 1331.5,530.0 1341.5,524.2 1352.0,526.5 1383.0,526.0 1393.0,525.5 1403.5,526.0" fill="none" stroke="#303030" stroke-width="2.1" stroke-linejoin="round"/>
<polygon points="13.0,551.7 13.0,598.0 25.0,595.0 56.0,595.0 68.0,598.7 76.0,597.0 87.0,597.0 98.0,594.5 190.0,594.5 200.5,570.7 211.0,567.5 221.0,567.5 231.5,562.0 242.0,558.2 249.5,551.7 252.0,551.7 262.5,551.7 283.0,551.7 293.0,551.7 313.5,551.7 324.0,551.7 365.0,551.7 375.5,551.7 385.5,551.7 396.0,551.7 406.0,551.7 416.5,551.7 489.0,551.7 499.0,551.7 509.5,551.7 520.0,551.7 612.0,551.7 622.5,551.7 633.0,551.7 643.0,551.7 653.0,551.7 663.5,551.7 674.0,551.7 694.0,551.7 704.5,551.7 715.0,551.7 797.0,551.7 807.0,551.7 817.5,551.7 828.0,551.7 838.0,551.7 848.0,551.7 858.5,551.7 889.0,551.7 900.0,551.7 910.0,551.7 930.5,551.7 941.0,551.7 961.5,551.7 972.0,551.7 982.0,551.7 992.5,551.7 1003.0,551.7 1044.0,551.7 1054.0,551.7 1064.5,551.7 1070.0,551.7 1075.0,553.7 1085.0,559.5 1157.0,559.5 1160.4,551.7 1167.0,551.7 1187.0,551.7 1218.0,551.7 1238.5,551.7 1259.0,551.7 1269.0,551.7 1279.5,551.7 1290.0,551.7 1311.0,551.7 1331.5,551.7 1341.5,551.7 1352.0,551.7 1383.0,551.7 1393.0,551.7 1403.5,551.7 1403.5,551.7" fill="#e60000"/>
<line x1="13" y1="551.7" x2="1403.5" y2="551.7" stroke="#b9b9b9" stroke-width="1.6" stroke-dasharray="4.1 3.65" stroke-dashoffset="2.7"/>
<text x="22.60" y="530.60" textLength="222.40" lengthAdjust="spacingAndGlyphs" font-size="14.5" font-weight="normal" fill="#131722" stroke="#131722" stroke-width="0.3">FXS Fed Sentiment Index (close)</text>
<text x="253.80" y="530.60" textLength="46.20" lengthAdjust="spacingAndGlyphs" font-size="14.5" font-weight="normal" fill="#000000" stroke="#000000" stroke-width="0.3">119.85</text>
<text x="309.30" y="530.60" textLength="46.40" lengthAdjust="spacingAndGlyphs" font-size="14.5" font-weight="normal" fill="#a9a9a9" stroke="#a9a9a9" stroke-width="0.3">100.00</text>
<rect x="1511" y="515.5" width="64" height="22.2" rx="2" fill="#000000"/>
<text x="1522.20" y="531.70" textLength="46.90" lengthAdjust="spacingAndGlyphs" font-size="14.5" font-weight="normal" fill="#ffffff" stroke="#ffffff" stroke-width="0.5">119.85</text>
<rect x="1511" y="540.7" width="64" height="21.8" rx="2" fill="#a9a9a9"/>
<text x="1522.20" y="556.70" textLength="46.90" lengthAdjust="spacingAndGlyphs" font-size="14.5" font-weight="normal" fill="#131722" stroke="#131722" stroke-width="0.3">100.00</text>
<text x="1521.60" y="582.60" textLength="39.90" lengthAdjust="spacingAndGlyphs" font-size="14.5" font-weight="normal" fill="#131722" stroke="#131722" stroke-width="0.3">80.00</text>
<text x="135.80" y="631.00" textLength="27.40" lengthAdjust="spacingAndGlyphs" font-size="14.5" font-weight="normal" fill="#131722" stroke="#131722" stroke-width="0.3">Nov</text>
<text x="243.85" y="631.00" textLength="16.90" lengthAdjust="spacingAndGlyphs" font-size="14.5" font-weight="normal" fill="#131722" stroke="#131722" stroke-width="0.3">15</text>
<text x="351.85" y="631.00" textLength="26.90" lengthAdjust="spacingAndGlyphs" font-size="14.5" font-weight="normal" fill="#131722" stroke="#131722" stroke-width="0.3">Dec</text>
<text x="459.85" y="631.00" textLength="16.90" lengthAdjust="spacingAndGlyphs" font-size="14.5" font-weight="normal" fill="#131722" stroke="#131722" stroke-width="0.3">16</text>
<text x="573.30" y="631.00" textLength="36.40" lengthAdjust="spacingAndGlyphs" font-size="14.5" font-weight="bold" fill="#131722" stroke="#131722" stroke-width="0.3">2025</text>
<text x="685.85" y="631.00" textLength="16.90" lengthAdjust="spacingAndGlyphs" font-size="14.5" font-weight="normal" fill="#131722" stroke="#131722" stroke-width="0.3">15</text>
<text x="814.30" y="631.00" textLength="26.40" lengthAdjust="spacingAndGlyphs" font-size="14.5" font-weight="normal" fill="#131722" stroke="#131722" stroke-width="0.3">Feb</text>
<text x="922.25" y="631.00" textLength="16.90" lengthAdjust="spacingAndGlyphs" font-size="14.5" font-weight="normal" fill="#131722" stroke="#131722" stroke-width="0.3">17</text>
<text x="1019.70" y="631.00" textLength="27.40" lengthAdjust="spacingAndGlyphs" font-size="14.5" font-weight="normal" fill="#131722" stroke="#131722" stroke-width="0.3">Mar</text>
<text x="1127.85" y="631.00" textLength="16.90" lengthAdjust="spacingAndGlyphs" font-size="14.5" font-weight="normal" fill="#131722" stroke="#131722" stroke-width="0.3">17</text>
<text x="1236.60" y="631.00" textLength="25.40" lengthAdjust="spacingAndGlyphs" font-size="14.5" font-weight="normal" fill="#131722" stroke="#131722" stroke-width="0.3">Apr</text>
<text x="1344.15" y="631.00" textLength="16.90" lengthAdjust="spacingAndGlyphs" font-size="14.5" font-weight="normal" fill="#131722" stroke="#131722" stroke-width="0.3">15</text>
<text x="1481.40" y="631.00" textLength="28.40" lengthAdjust="spacingAndGlyphs" font-size="14.5" font-weight="normal" fill="#131722" stroke="#131722" stroke-width="0.3">May</text>
<g fill="#131722">
<path d="M12.8 659.5H22.4V671.9H17.6V664.3H12.8Z"/>
<circle cx="26.5" cy="662.25" r="2.7"/>
<path d="M31.7 659.5H37.2L32 671.9H26.5Z"/>
</g>
<text x="41.50" y="671.70" textLength="90.70" lengthAdjust="spacingAndGlyphs" font-size="15.3" font-weight="normal" fill="#131722" stroke="#131722" stroke-width="0.35">TradingView</text>
</svg></body></html>
